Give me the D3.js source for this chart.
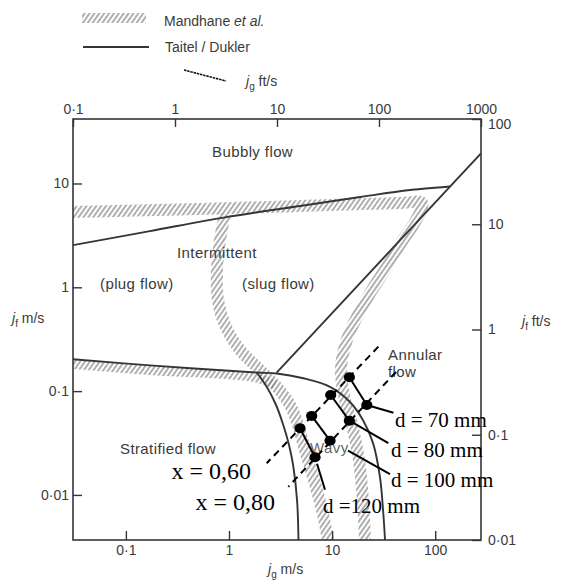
<!DOCTYPE html>
<html>
<head>
<meta charset="utf-8">
<script src="https://cdn.jsdelivr.net/npm/d3@7"></script>
<style>
  body { margin: 0; background: #fff; }
  svg { display: block; }
  .sans { font-family: "Liberation Sans", Arial, sans-serif; fill: #3a3a3a; }
  .serif { font-family: "Liberation Serif", "Times New Roman", serif; fill: #000; }
</style>
</head>
<body>
<svg id="chart" width="563" height="582"></svg>
<script>
// ---- Taitel / Dukler boundaries (superficial velocities, m/s) ----
const bubblyBoundaryJg = [0.0307, 0.171, 0.915, 4.88, 18.7, 57, 139];
const bubblyBoundaryJf = [2.55, 3.48, 4.72, 6.07, 7.41, 8.65, 9.35];

const annularBoundaryJg = [2.9, 278];
const annularBoundaryJf = [0.151, 19.5];

const stratifiedBoundaryJg = [0.0307, 0.171, 1.86, 2.90, 5.26, 9.55, 14.9, 19.9, 24.9, 29.1, 31.2, 32.6];
const stratifiedBoundaryJf = [0.203, 0.177, 0.151, 0.148, 0.133, 0.110, 0.0786, 0.0527, 0.0317, 0.0149, 0.00716, 0.00368];

const wavyBoundaryJg = [1.86, 2.32, 2.86, 3.36, 3.82, 4.20, 4.57, 4.72];
const wavyBoundaryJf = [0.151, 0.110, 0.0735, 0.0472, 0.0303, 0.0190, 0.00895, 0.00368];

// ---- Mandhane et al. transition bands (centre lines, m/s) ----
const mandhaneAnnularJg = [0.0307, 0.523, 4.88, 45.6, 74.5, 63.7, 48.7, 34.8, 24.4, 17.8, 13.9, 12.2, 13.0, 15.6, 18.2, 19.9, 20.8];
const mandhaneAnnularJf = [5.31, 5.68, 6.07, 6.48, 6.48, 4.25, 2.85, 1.64, 0.942, 0.541, 0.311, 0.167, 0.0918, 0.0472, 0.0217, 0.00895, 0.00368];

const mandhaneSlugWavyJg = [0.915, 0.818, 0.765, 0.782, 0.915, 1.28, 1.91, 2.79, 3.91, 4.67, 5.46, 6.68, 7.98, 9.12];
const mandhaneSlugWavyJf = [5.08, 2.85, 1.47, 0.755, 0.433, 0.249, 0.167, 0.115, 0.0736, 0.0472, 0.0271, 0.0139, 0.00716, 0.00368];

const mandhaneStratifiedJg = [0.0307, 0.171, 1.83, 2.79];
const mandhaneStratifiedJf = [0.181, 0.158, 0.134, 0.115];

// ---- Operating points for four pipe diameters at two qualities ----
const diameterLabels = ["d = 70 mm", "d = 80 mm", "d = 100 mm", "d =120 mm"];
const jgAtX060 = [14.7, 9.69, 6.34, 4.88];
const jfAtX060 = [0.136, 0.0918, 0.0577, 0.0439];
const jgAtX080 = [21.7, 14.7, 9.55, 6.83];
const jfAtX080 = [0.0736, 0.0519, 0.0333, 0.0231];

// constant-quality dashed lines
const qualityLabels = ["x = 0,60", "x = 0,80"];
const qualityLineJg = [[28.1, 2.32], [41.7, 3.76]];
const qualityLineJf = [[0.268, 0.0202], [0.153, 0.0120]];

// where the diameter leader lines end
const leaderEndJg = [39.3, 35.1, 36.4, 8.53];
const leaderEndJf = [0.062, 0.0315, 0.0159, 0.0112];

// ---- axis ticks ----
const jgMsTicks = [0.1, 1, 10, 100];
const jgFtTicks = [0.1, 1, 10, 100, 1000];
const jfMsTicks = [0.01, 0.1, 1, 10];
const jfFtTicks = [0.01, 0.1, 1, 10, 100];

// ---- layout ----
const frame = { left: 73, top: 119, right: 481, bottom: 540 };
const ink = "#353535";

const xMs = d3.scaleLog().domain([0.0307, 278]).range([frame.left, frame.right]);
const xFt = d3.scaleLog().domain([0.1, 1000]).range([frame.left, frame.right]);
const yMs = d3.scaleLog().domain([0.00368, 41.8]).range([frame.bottom, frame.top]);
const yFt = d3.scaleLog().domain([0.01, 100]).range([frame.bottom, frame.top]);

const svg = d3.select("#chart");
const defs = svg.append("defs");

const hatch = defs.append("pattern")
  .attr("id", "hatch")
  .attr("patternUnits", "userSpaceOnUse")
  .attr("width", 4).attr("height", 10)
  .attr("patternTransform", "rotate(35)");
hatch.append("line")
  .attr("x1", 1).attr("y1", 0).attr("x2", 1).attr("y2", 10)
  .attr("stroke", "#7a7a7a").attr("stroke-width", 1.2);

defs.append("clipPath").attr("id", "plotClip")
  .append("rect")
  .attr("x", frame.left).attr("y", frame.top)
  .attr("width", frame.right - frame.left).attr("height", frame.bottom - frame.top);

const zip = (a, b) => a.map((v, i) => [v, b[i]]);
const smooth = d3.line().x(d => xMs(d[0])).y(d => yMs(d[1])).curve(d3.curveCatmullRom.alpha(0.5));
const straight = d3.line().x(d => xMs(d[0])).y(d => yMs(d[1]));

const plot = svg.append("g").attr("clip-path", "url(#plotClip)");

// Mandhane hatched bands
const bands = [
  { pts: zip(mandhaneAnnularJg, mandhaneAnnularJf), w: 12 },
  { pts: zip(mandhaneSlugWavyJg, mandhaneSlugWavyJf), w: 12 },
  { pts: zip(mandhaneStratifiedJg, mandhaneStratifiedJf), w: 9 }
];
plot.selectAll("path.band").data(bands).join("path")
  .attr("class", "band")
  .attr("d", d => smooth(d.pts))
  .attr("fill", "none")
  .attr("stroke", "url(#hatch)")
  .attr("stroke-width", d => d.w)
  .attr("stroke-linejoin", "round");

// Taitel / Dukler solid boundaries
const solidLines = [
  { pts: zip(bubblyBoundaryJg, bubblyBoundaryJf), gen: smooth },
  { pts: zip(annularBoundaryJg, annularBoundaryJf), gen: straight },
  { pts: zip(stratifiedBoundaryJg, stratifiedBoundaryJf), gen: smooth },
  { pts: zip(wavyBoundaryJg, wavyBoundaryJf), gen: smooth }
];
plot.selectAll("path.td").data(solidLines).join("path")
  .attr("class", "td")
  .attr("d", d => d.gen(d.pts))
  .attr("fill", "none")
  .attr("stroke", ink)
  .attr("stroke-width", 1.9);

// frame
svg.append("rect")
  .attr("x", frame.left).attr("y", frame.top)
  .attr("width", frame.right - frame.left).attr("height", frame.bottom - frame.top)
  .attr("fill", "none").attr("stroke", ink).attr("stroke-width", 1.6);

// axes (ticks point inwards)
const fmt = d => (d < 1 ? String(d).replace(".", "·") : String(d));
function styleAxis(g) {
  g.select(".domain").remove();
  g.selectAll(".tick line").attr("stroke", ink).attr("stroke-width", 1.4);
  g.selectAll(".tick text")
    .attr("fill", "#3a3a3a")
    .style("font-family", "'Liberation Sans', Arial, sans-serif")
    .style("font-size", "14px");
}
svg.append("g").attr("transform", `translate(0,${frame.bottom})`)
  .call(d3.axisBottom(xMs).tickValues(jgMsTicks).tickFormat(fmt).tickSize(-9).tickPadding(5))
  .call(styleAxis);
svg.append("g").attr("transform", `translate(0,${frame.top})`)
  .call(d3.axisTop(xFt).tickValues(jgFtTicks).tickFormat(fmt).tickSize(-8).tickPadding(5))
  .call(styleAxis);
svg.append("g").attr("transform", `translate(${frame.left},0)`)
  .call(d3.axisLeft(yMs).tickValues(jfMsTicks).tickFormat(fmt).tickSize(-9).tickPadding(4))
  .call(styleAxis);
const rightAxis = svg.append("g").attr("transform", `translate(${frame.right},0)`)
  .call(d3.axisRight(yFt).tickValues(jfFtTicks).tickFormat(fmt).tickSize(-9).tickPadding(7))
  .call(styleAxis);
// the top label sits just below the corner so it clears the top axis label
rightAxis.selectAll(".tick text").filter(d => d === 100).attr("y", 5);

// axis titles: j with subscript
function axisTitle(x, y, sub, unit) {
  const t = svg.append("text").attr("class", "sans").attr("x", x).attr("y", y)
    .style("font-size", "14px");
  t.append("tspan").text("j").style("font-style", "italic");
  t.append("tspan").text(sub).attr("dy", 4).style("font-size", "10px");
  t.append("tspan").text(" " + unit).attr("dy", -4);
}
axisTitle(246, 86, "g", "ft/s");
axisTitle(268, 574, "g", "m/s");
axisTitle(12, 323, "f", "m/s");
axisTitle(522, 326, "f", "ft/s");

// regime labels
const regimeText = [
  { t: "Bubbly flow", x: 212, y: 157 },
  { t: "Intermittent", x: 177, y: 258 },
  { t: "(plug flow)", x: 100, y: 289 },
  { t: "(slug flow)", x: 242, y: 289 },
  { t: "Annular", x: 388, y: 360 },
  { t: "flow", x: 388, y: 377 },
  { t: "Stratified flow", x: 120, y: 454 },
  { t: "Wavy", x: 310, y: 453, fill: "#666" }
];
svg.selectAll("text.regime").data(regimeText).join("text")
  .attr("class", "regime sans")
  .attr("x", d => d.x).attr("y", d => d.y)
  .style("font-size", "15px")
  .style("letter-spacing", "0.4px")
  .style("fill", d => d.fill || "#3a3a3a")
  .text(d => d.t);

// legend
svg.append("rect").attr("x", 82).attr("y", 13).attr("width", 64).attr("height", 10)
  .attr("fill", "url(#hatch)");
const lg1 = svg.append("text").attr("class", "sans").attr("x", 164).attr("y", 26).style("font-size", "14px");
lg1.append("tspan").text("Mandhane ");
lg1.append("tspan").text("et al.").style("font-style", "italic");
svg.append("line").attr("x1", 83).attr("x2", 149).attr("y1", 47).attr("y2", 47)
  .attr("stroke", ink).attr("stroke-width", 1.9);
svg.append("text").attr("class", "sans").attr("x", 165).attr("y", 52).style("font-size", "14px")
  .text("Taitel / Dukler");
svg.append("line").attr("x1", 184).attr("y1", 70).attr("x2", 226).attr("y2", 81)
  .attr("stroke", "#111").attr("stroke-width", 1.6).attr("stroke-dasharray", "2.5,0.8");

// ---- overlay: constant-quality lines, operating points, leaders ----
const over = svg.append("g");
qualityLineJg.forEach((jg, i) => {
  over.append("path")
    .attr("d", straight(zip(jg, qualityLineJf[i])))
    .attr("fill", "none").attr("stroke", "#000")
    .attr("stroke-width", 2).attr("stroke-dasharray", "7,5");
});

// pairs joined by solid segments
diameterLabels.forEach((_, i) => {
  over.append("line")
    .attr("x1", xMs(jgAtX060[i])).attr("y1", yMs(jfAtX060[i]))
    .attr("x2", xMs(jgAtX080[i])).attr("y2", yMs(jfAtX080[i]))
    .attr("stroke", "#000").attr("stroke-width", 2);
});

// leaders from the x = 0,80 point to each diameter label
const leaderStart = [0, 0, 0.3, 0.2];
diameterLabels.forEach((_, i) => {
  const x0 = xMs(jgAtX080[i]), y0 = yMs(jfAtX080[i]);
  const x1 = xMs(leaderEndJg[i]), y1 = yMs(leaderEndJf[i]);
  const t = leaderStart[i];
  over.append("line")
    .attr("x1", x0 + (x1 - x0) * t).attr("y1", y0 + (y1 - y0) * t)
    .attr("x2", x1).attr("y2", y1)
    .attr("stroke", "#000").attr("stroke-width", 2);
});

const points = jgAtX060.map((v, i) => [v, jfAtX060[i]])
  .concat(jgAtX080.map((v, i) => [v, jfAtX080[i]]));
over.selectAll("ellipse.pt").data(points).join("ellipse")
  .attr("class", "pt")
  .attr("cx", d => xMs(d[0])).attr("cy", d => yMs(d[1]))
  .attr("rx", 5.6).attr("ry", 5).attr("fill", "#000");

// annotation text
const diamPos = [[395, 427], [391, 457], [391, 487], [323, 513]];
diameterLabels.forEach((t, i) => {
  svg.append("text").attr("class", "serif")
    .attr("x", diamPos[i][0]).attr("y", diamPos[i][1])
    .style("font-size", "21px").text(t);
});
const qualPos = [[251, 479], [275, 510]];
qualityLabels.forEach((t, i) => {
  svg.append("text").attr("class", "serif")
    .attr("x", qualPos[i][0]).attr("y", qualPos[i][1])
    .attr("text-anchor", "end")
    .style("font-size", "24px").text(t);
});
</script>
</body>
</html>
